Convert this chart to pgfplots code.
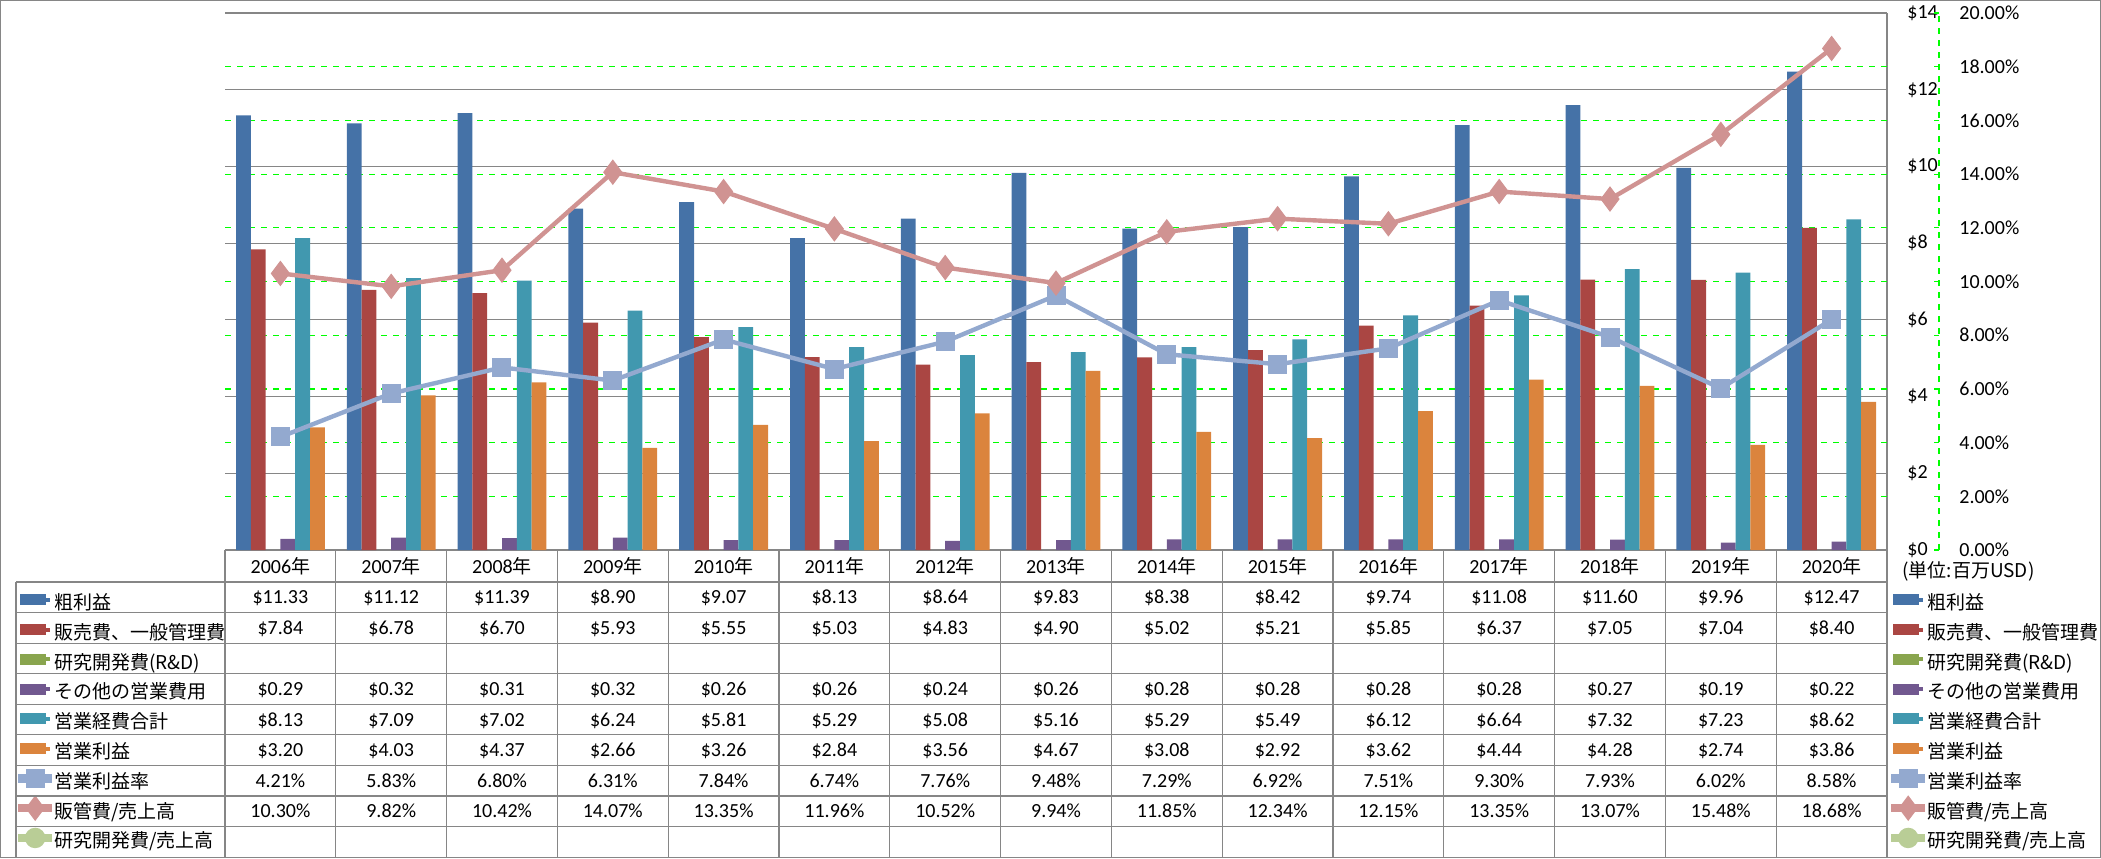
\documentclass[border=0pt]{standalone}
\usepackage{pgfplots}
\pgfplotsset{compat=1.18}
\usepackage{pgfplotstable}
\usepackage{fontspec}
\setmainfont{Carlito}
\newfontfamily\cjk{Noto Sans CJK JP}

\definecolor{cGross}{HTML}{4572A7}
\definecolor{cSGA}{HTML}{AA4643}
\definecolor{cRD}{HTML}{89A54E}
\definecolor{cOther}{HTML}{71588F}
\definecolor{cOpex}{HTML}{4198AF}
\definecolor{cOpInc}{HTML}{DB843D}
\definecolor{cMargin}{HTML}{93A9CF}
\definecolor{cSGARatio}{HTML}{D09392}
\definecolor{cRDRatio}{HTML}{B9CD96}
\definecolor{gridgray}{HTML}{868686}
\definecolor{gridgreen}{HTML}{00FF00}

% values in million USD / percent
\pgfplotstableread{
x  gross  sga   other  opex  opinc  margin  sgaratio
0  11.33  7.84  0.29   8.13  3.20   4.21    10.30
1  11.12  6.78  0.32   7.09  4.03   5.83    9.82
2  11.39  6.70  0.31   7.02  4.37   6.80    10.42
3  8.90   5.93  0.32   6.24  2.66   6.31    14.07
4  9.07   5.55  0.26   5.81  3.26   7.84    13.35
5  8.13   5.03  0.26   5.29  2.84   6.74    11.96
6  8.64   4.83  0.24   5.08  3.56   7.76    10.52
7  9.83   4.90  0.26   5.16  4.67   9.48    9.94
8  8.38   5.02  0.28   5.29  3.08   7.29    11.85
9  8.42   5.21  0.28   5.49  2.92   6.92    12.34
10 9.74   5.85  0.28   6.12  3.62   7.51    12.15
11 11.08  6.37  0.28   6.64  4.44   9.30    13.35
12 11.60  7.05  0.27   7.32  4.28   7.93    13.07
13 9.96   7.04  0.19   7.23  2.74   6.02    15.48
14 12.47  8.40  0.22   8.62  3.86   8.58    18.68
}\data

\pgfplotsset{
  barkey/.style={legend image code/.code={%
    \path (0pt,0pt) rectangle (15pt,2pt);
    \fill[overlay,##1] (0pt,-1.75pt) rectangle (13pt,3.75pt);}},
  linekey/.style={legend image code/.code={%
    \path (0pt,0pt) rectangle (15pt,2pt);
    \draw[overlay,mark repeat=2,mark phase=2,##1] plot coordinates {(0pt,1pt) (7.5pt,1pt) (15pt,1pt)};}},
  tablelegend/.style={
    legend cell align=left,
    legend style={draw=none, fill=none, inner sep=0pt, outer sep=0pt, row sep=0pt, column sep=1pt,
      anchor=north west, font=\cjk\fontsize{9.5}{11}\selectfont,
      nodes={inner sep=0pt, outer sep=0pt, minimum height=14.88pt, text height=8.9pt, text depth=1.1pt}}},
  marginline/.style={color=cMargin, line width=2.2pt, mark=square*, mark size=4.5pt,
    mark options={fill=cMargin, draw=cMargin, line width=0.5pt}},
  sgaline/.style={color=cSGARatio, line width=2.2pt, mark=diamond*, mark size=6pt,
    mark options={fill=cSGARatio, draw=cSGARatio, line width=0.5pt}},
  rdline/.style={color=cRDRatio, line width=2.2pt, mark=*, mark size=4pt,
    mark options={fill=cRDRatio, draw=cRDRatio}},
  chartbox/.style={at={(112.5pt,154pt)}, anchor=south west, scale only axis,
    width=831pt, height=268.5pt, xmin=-0.5, xmax=14.5,
    tick label style={font=\fontsize{10}{12}\selectfont},
    /pgf/number format/assume math mode=true},
}

\begin{document}
\begin{tikzpicture}
\useasboundingbox (0,0) rectangle (1050.5pt,429pt);
\draw[gridgray, line width=0.6pt] (0.3pt,0.3pt) rectangle (1050.2pt,428.7pt);

% bars, left scale
\begin{axis}[chartbox,
  ymin=0, ymax=14,
  axis x line*=bottom, axis y line*=right,
  axis line style={gridgray, line width=0.6pt},
  xtick={0,...,14},
  xticklabels={2006{\cjk\fontsize{9.5}{11}\selectfont 年},2007{\cjk\fontsize{9.5}{11}\selectfont 年},
    2008{\cjk\fontsize{9.5}{11}\selectfont 年},2009{\cjk\fontsize{9.5}{11}\selectfont 年},
    2010{\cjk\fontsize{9.5}{11}\selectfont 年},2011{\cjk\fontsize{9.5}{11}\selectfont 年},
    2012{\cjk\fontsize{9.5}{11}\selectfont 年},2013{\cjk\fontsize{9.5}{11}\selectfont 年},
    2014{\cjk\fontsize{9.5}{11}\selectfont 年},2015{\cjk\fontsize{9.5}{11}\selectfont 年},
    2016{\cjk\fontsize{9.5}{11}\selectfont 年},2017{\cjk\fontsize{9.5}{11}\selectfont 年},
    2018{\cjk\fontsize{9.5}{11}\selectfont 年},2019{\cjk\fontsize{9.5}{11}\selectfont 年},
    2020{\cjk\fontsize{9.5}{11}\selectfont 年}},
  xticklabel style={anchor=base, yshift=-11.5pt, inner sep=0pt},
  ytick={0,2,...,14},
  yticklabel={\$\pgfmathprintnumber{\tick}},
  yticklabel style={anchor=west, xshift=10pt, inner sep=0pt},
  major tick length=0pt,
  ymajorgrids, grid style={gridgray, line width=0.6pt},
  extra y ticks={1.4,2.8,4.2,5.6,7,8.4,9.8,11.2,12.6},
  extra y tick labels={},
  extra y tick style={grid=major, major grid style={gridgreen, dashed, line width=0.6pt}},
  tablelegend,
  legend style={at={(1.00241,-0.0689)}},
  legend entries={粗利益,販売費、一般管理費,研究開発費(R\&D),その他の営業費用,営業経費合計,営業利益,営業利益率,販管費/売上高,研究開発費/売上高},
]
\addplot[ybar, bar width=7.4pt, bar shift=-18.5pt, fill=cGross, draw=none, barkey] table[x=x, y=gross] {\data};
\addplot[ybar, bar width=7.4pt, bar shift=-11.1pt, fill=cSGA, draw=none, barkey] table[x=x, y=sga] {\data};
\addlegendimage{barkey, fill=cRD, draw=none}
\addplot[ybar, bar width=7.4pt, bar shift=3.7pt, fill=cOther, draw=none, barkey] table[x=x, y=other] {\data};
\addplot[ybar, bar width=7.4pt, bar shift=11.1pt, fill=cOpex, draw=none, barkey] table[x=x, y=opex] {\data};
\addplot[ybar, bar width=7.4pt, bar shift=18.5pt, fill=cOpInc, draw=none, barkey] table[x=x, y=opinc] {\data};
\addlegendimage{linekey, marginline}
\addlegendimage{linekey, sgaline}
\addlegendimage{linekey, rdline}
\end{axis}

% ratios, right scale
\begin{axis}[chartbox,
  ymin=0, ymax=20,
  hide x axis,
  axis y line*=right,
  y axis line style={gridgreen, dashed, line width=0.6pt, xshift=26pt},
  ytick={0,2,...,20},
  yticklabel={\pgfmathprintnumber[fixed,fixed zerofill,precision=2]{\tick}\%},
  yticklabel style={anchor=west, xshift=36pt, inner sep=0pt},
  major tick length=2.5pt, tick align=inside,
  ytick style={gridgreen, line width=0.6pt, xshift=26pt},
  tablelegend,
  legend style={at={(-0.12455,-0.0689)}},
  legend entries={粗利益,販売費、一般管理費,研究開発費(R\&D),その他の営業費用,営業経費合計,営業利益,営業利益率,販管費/売上高,研究開発費/売上高},
]
\addlegendimage{barkey, fill=cGross, draw=none}
\addlegendimage{barkey, fill=cSGA, draw=none}
\addlegendimage{barkey, fill=cRD, draw=none}
\addlegendimage{barkey, fill=cOther, draw=none}
\addlegendimage{barkey, fill=cOpex, draw=none}
\addlegendimage{barkey, fill=cOpInc, draw=none}
\addplot[marginline, linekey] table[x=x, y=margin] {\data};
\addplot[sgaline, linekey] table[x=x, y=sgaratio] {\data};
\addlegendimage{linekey, rdline}
\end{axis}

% data table grid
\foreach \k in {0,...,15}
  \draw[gridgray, line width=0.6pt] ({112.5pt+55.4pt*\k},154pt) -- ({112.5pt+55.4pt*\k},0pt);
\foreach \r in {0,...,8}
  \draw[gridgray, line width=0.6pt] (8pt,{138pt-15.28pt*\r}) -- (943.5pt,{138pt-15.28pt*\r});
\draw[gridgray, line width=0.6pt] (8pt,138pt) -- (8pt,0pt);

% data table values
\foreach \col/\r/\pre/\post in {gross/0/\$/\relax, sga/1/\$/\relax, other/3/\$/\relax,
    opex/4/\$/\relax, opinc/5/\$/\relax, margin/6/\relax/\%, sgaratio/7/\relax/\%}{
  \foreach \c in {0,...,14}{
    \pgfplotstablegetelem{\c}{\col}\of\data
    \node[anchor=base, inner sep=0pt, font=\fontsize{10}{12}\selectfont]
      at ({112.5pt+55.4pt*(\c+0.5)},{138pt-15.28pt*(\r+0.5)-3.3pt})
      {\pre\pgfmathprintnumber[fixed,fixed zerofill,precision=2,assume math mode=true]{\pgfplotsretval}\post};
  }
}

\node[anchor=west, inner sep=0pt, font=\cjk\fontsize{9.5}{11}\selectfont] at (951pt,143.5pt) {(単位:百万USD)};
\end{tikzpicture}
\end{document}
